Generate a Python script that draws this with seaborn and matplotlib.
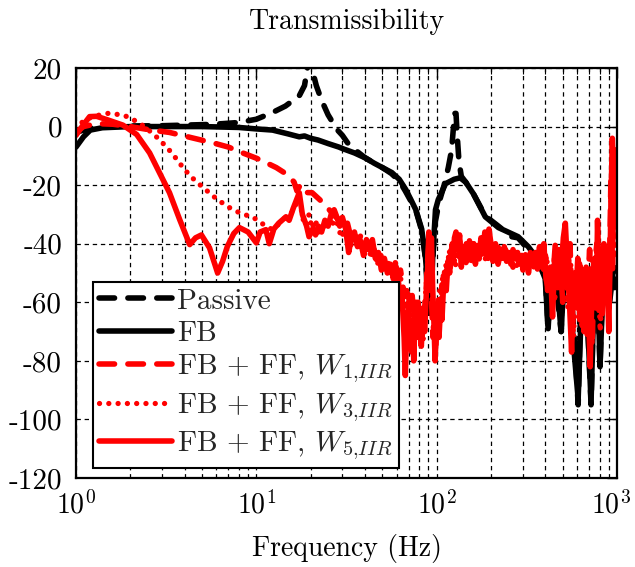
import matplotlib
matplotlib.use("Agg")
import numpy as np
import pandas as pd
import matplotlib.pyplot as plt
import matplotlib.transforms as mtransforms
import seaborn as sns
from matplotlib.ticker import LogLocator, NullFormatter

# ---------------- data (frequency in Hz, magnitude in dB) ----------------
PASSIVE = [(1, -2), (1.2, -0.5), (1.5, 0), (2, 0.2), (3, 0.3), (4, 0.5), (5.3, 0.7), (6.5, 1),
           (8, 1.4), (10, 2.5), (12.3, 4.8), (14.5, 7), (17.3, 10.5), (18.5, 14), (19.2, 20),
           (19.7, 28), (20.3, 20), (21.5, 14), (23, 9), (25, 4), (28, -1), (30, -3), (32, -5.5),
           (35, -7.8), (40, -10.6), (45, -12.5), (50, -14), (56, -16), (62, -18.5), (67, -22),
           (72, -25.5), (77, -29), (83, -36), (87, -46), (89, -58), (91, -66), (93, -60), (95, -46),
           (98, -33), (103, -26), (110, -20), (116, -14), (121, -8), (124, 0), (126, 4.5),
           (128, 4.5), (130, -3), (133, -12), (137, -17), (145, -19), (160, -23), (186, -30.5),
           (220, -34), (260, -37.6), (283, -38), (322, -42), (360, -45), (385, -48), (400, -50),
           (415, -69), (430, -50), (445, -47), (460, -54), (490, -70), (510, -48), (540, -50),
           (565, -62), (590, -80), (609, -95), (630, -60), (660, -50), (690, -70), (718, -95),
           (745, -55), (775, -48), (805, -82), (830, -55), (870, -50), (900, -62), (940, -48),
           (970, -55), (1000, -50)]

FB = [(1, -7), (1.1, -3.5), (1.2, -1.2), (1.4, -0.4), (2, 0), (3, 0), (5, 0), (8, -0.3),
      (10, -0.8), (12.3, -1.2), (15, -2.5), (17.3, -3.5), (18.5, -3.2), (20, -4), (22, -4.6),
      (25, -5.8), (28.7, -7), (30, -7.5), (35, -9), (40.5, -10.8), (45, -12.5), (50, -14),
      (56.4, -15.7), (62, -18), (67.4, -21.5), (72, -25), (76.6, -28.4), (82.6, -35),
      (86.8, -45), (89.5, -56), (91.5, -63), (93.5, -58), (95, -45), (98.5, -28.4), (102, -25),
      (112, -19.5), (125, -18), (135, -17.5), (145, -19), (160, -23), (186, -30.8), (220, -34.5),
      (283, -37.6), (322, -41), (360, -45), (400, -52), (415, -69), (430, -52), (460, -50),
      (490, -70), (510, -50), (540, -52), (575, -75), (609, -93), (640, -55), (680, -60),
      (718, -94), (745, -58), (780, -50), (805, -82), (830, -60), (870, -52), (910, -60),
      (950, -50), (1000, -48)]

W1 = [(1, -2), (1.1, 0), (1.3, 1), (1.6, 0.8), (2, 0), (2.5, -1), (3.3, -2), (4.5, -4),
      (5.7, -5.5), (7, -7), (8.4, -9), (10, -10.8), (11.3, -12.3), (12.9, -14), (14.5, -16),
      (15.5, -17.5), (16.2, -19), (16.8, -22), (17.5, -20), (18.5, -22.5), (20.4, -22.6),
      (22.5, -25), (24.5, -27.4), (27.5, -30.8), (29, -32), (30.5, -35), (32, -33), (33.5, -38),
      (35, -36), (36.5, -40), (38, -37), (39.5, -42), (41, -40), (43, -45), (45, -42), (47, -47),
      (49, -44), (51, -48), (53, -46), (55, -46.5), (57, -50), (59, -46.5), (61, -52), (63, -49),
      (65, -54.7), (67, -58), (69, -54.7), (71, -62), (73, -57), (75, -66), (77, -60), (79, -70),
      (81, -62), (83, -72), (85, -64), (87, -58), (89, -46), (91, -38), (92.5, -50), (94, -62),
      (95.5, -72), (97, -65), (99, -75), (101, -62), (103, -58), (105, -64), (107, -54),
      (109, -58), (111, -48), (113, -52), (116, -44), (119, -48), (122, -40), (125, -45),
      (128, -38), (131, -43), (134, -39), (137, -45), (141, -41), (145, -47), (149, -42),
      (153, -46), (157, -40), (161, -45), (166, -41), (171, -46), (176, -40), (181, -44),
      (187, -38), (193, -45), (199, -41), (205, -46), (212, -42), (219, -47), (226, -43),
      (233, -46), (241, -42), (249, -47), (257, -44), (265, -48), (274, -43), (283, -46),
      (292, -44), (301, -49), (311, -45), (321, -47), (331, -43), (342, -48), (353, -44),
      (365, -50), (377, -42), (389, -47), (401, -44), (414, -58), (427, -47), (441, -52),
      (455, -40), (470, -55), (485, -46), (500, -60), (516, -44), (532, -52), (549, -40),
      (566, -70), (584, -52), (603, -62), (622, -45), (642, -68), (662, -50), (683, -58),
      (705, -42), (727, -75), (750, -48), (773, -40), (797, -65), (822, -50), (848, -58),
      (874, -45), (901, -62), (925, -18), (945, -50), (962, -8), (980, -35), (1000, -25)]

W3 = [(1, -1), (1.1, 2), (1.25, 3.5), (1.5, 4.5), (1.8, 4), (2, 3), (2.4, 0), (2.9, -4.4),
      (3.4, -9), (4, -14.7), (4.5, -18), (5, -20.5), (6.1, -25), (7.4, -28.4), (8.5, -30),
      (9.5, -30.8), (11.3, -34), (12.3, -35.2), (13.5, -33), (14.5, -31), (15.5, -30),
      (16.5, -27), (17.3, -23), (18, -31), (18.8, -34), (19.6, -30), (20.4, -35), (21.3, -32),
      (22.2, -37), (23.2, -33), (24.2, -35), (25.2, -31), (26.3, -34), (27.4, -30), (28.6, -35),
      (29.8, -38), (31, -34), (32.4, -37), (33.8, -41), (35.2, -38), (36.7, -42), (38.3, -39),
      (40, -44), (41.7, -41), (43.5, -45), (45.4, -42), (47.3, -47), (49.3, -45), (51.4, -50),
      (53.6, -46), (55.9, -51), (58.3, -48), (60.8, -54), (63.4, -52), (66, -58), (68, -64),
      (70, -56), (72, -66), (74, -72), (76, -62), (78, -70), (80, -62), (82, -68), (84, -74),
      (86, -60), (88, -52), (90, -42), (91.5, -56), (93, -48), (94.5, -62), (96, -70),
      (98, -64), (100, -72), (102, -62), (104, -56), (106, -62), (108, -50), (110.5, -54),
      (113, -46), (115.5, -50), (118, -42), (121, -47), (124, -43), (127, -48), (130, -40),
      (133, -45), (136, -41), (140, -46), (144, -42), (148, -47), (152, -41), (156, -46),
      (161, -40), (166, -45), (171, -39), (176, -44), (181, -40), (187, -46), (193, -41),
      (199, -45), (206, -42), (213, -46), (220, -41), (228, -45), (236, -42), (244, -46),
      (252, -43), (261, -47), (270, -44), (279, -48), (289, -44), (299, -47), (309, -43),
      (320, -48), (331, -45), (343, -49), (355, -44), (367, -47), (380, -42), (393, -50),
      (407, -44), (421, -56), (436, -48), (451, -60), (467, -46), (483, -53), (500, -40),
      (517, -48), (535, -62), (554, -47), (573, -72), (593, -56), (614, -45), (635, -64),
      (657, -50), (680, -72), (704, -54), (728, -44), (753, -60), (779, -38), (806, -70),
      (834, -52), (863, -48), (893, -58), (920, -35), (940, -12), (958, -45), (975, -20),
      (1000, -35)]

W5 = [(1, -3), (1.08, 0), (1.19, 3.4), (1.3, 3.5), (1.48, 2.4), (1.82, 0.5), (2.17, -2.7),
      (2.56, -9), (2.9, -15.7), (3.3, -22.6), (3.76, -31.8), (4.27, -40.3), (4.6, -38),
      (4.96, -37), (5.5, -41.4), (6.1, -50), (6.5, -46), (6.9, -41), (7.5, -36.5), (8.06, -34.5),
      (9, -36), (10, -39.7), (10.5, -36), (11.3, -35.2), (11.8, -40), (12.5, -35), (13.3, -33),
      (14.6, -30.8), (15.2, -32), (16, -28), (17.3, -22.6), (18, -30), (19, -34), (19.6, -37.6),
      (20.5, -35), (21.3, -37), (22.1, -34), (23, -36), (24, -32), (25, -34), (26, -30),
      (27, -28.4), (28, -31), (29, -34), (30, -31), (31.3, -35), (32.5, -43), (33.7, -38),
      (35, -36), (36.4, -41), (37.8, -39), (39.3, -44), (40.8, -38.6), (42.4, -42), (44, -38.6),
      (45.7, -45), (47.5, -43), (49.4, -49), (51.3, -45), (53.3, -50), (55.4, -47), (57.5, -52),
      (59.7, -48), (62, -55), (64.3, -58), (66, -72), (67, -85), (68.5, -66), (70, -62),
      (71.5, -74), (72.8, -77), (74, -70), (74.6, -80), (76, -64), (77.5, -72), (79, -60),
      (80.6, -68), (82.2, -75), (84, -64), (85.8, -70), (87.5, -58), (89, -50), (90.5, -36),
      (92, -48), (93.5, -38), (95, -55), (96.5, -66), (98, -80), (99.5, -70), (101, -66),
      (103, -72), (105, -62), (107, -66), (109, -55), (111, -50), (113, -56), (115.5, -46),
      (118, -50), (120.5, -42), (123, -46), (125.5, -38), (128, -36), (131, -42), (134, -37),
      (137, -48), (140, -41), (143, -46), (146, -40), (149, -45), (152, -39), (156, -44),
      (160, -40), (164, -47), (168, -41), (172, -45), (176, -38), (180, -43), (185, -36),
      (190, -42), (195, -35), (200, -40), (206, -44), (212, -40), (218, -46), (224, -42),
      (230, -45), (237, -41), (244, -46), (251, -43), (258, -47), (265, -42), (273, -45),
      (281, -43), (289, -47), (297, -44), (305, -48), (314, -45), (323, -50), (332, -44),
      (342, -47), (352, -43), (362, -46), (372, -41), (382, -48), (393, -40), (404, -52),
      (415, -55), (427, -48), (439, -65), (451, -45), (464, -54), (477, -42), (490, -50),
      (504, -38), (517, -33), (531, -48), (545, -60), (560, -77), (575, -50), (590, -60),
      (606, -45), (622, -66), (639, -55), (656, -70), (674, -48), (692, -60), (710, -82),
      (729, -52), (748, -45), (768, -62), (780, -32), (793, -50), (810, -58), (828, -64),
      (846, -40), (864, -60), (882, -50), (900, -70), (915, -45), (930, -20), (942, -4),
      (955, -15), (968, -8), (982, -30), (1000, -12)]

LABELS = ["Passive", "FB", r"FB + FF, $W_{1{,}IIR}$", r"FB + FF, $W_{3{,}IIR}$",
          r"FB + FF, $W_{5{,}IIR}$"]
YTICKS = [-120, -100, -80, -60, -40, -20, 0, 20]
YTICKLABELS = ["-120", "-100", "-80", "-60", "-40", "-20", "0", "20"]
XTICKS = [1, 10, 100, 1000]
XTICKLABELS = [r"$10^{0}$", r"$10^{1}$", r"$10^{2}$", r"$10^{3}$"]

# ---------------- style ----------------
sns.set_theme(style="white")
plt.rcParams.update({
    "font.family": "serif",
    "font.serif": ["cmr10", "DejaVu Serif"],
    "mathtext.fontset": "cm",
    "axes.formatter.use_mathtext": True,
    "axes.unicode_minus": False,
})

fig = plt.figure(figsize=(6.35, 5.67), dpi=100)
ax = fig.add_axes([76 / 635, 1 - 478 / 567, 541 / 635, 410 / 567])

series = [
    (PASSIVE, "black", "dash"),
    (FB, "black", "solid"),
    (W1, "red", "dash"),
    (W3, "red", "dot"),
    (W5, "red", "solid"),
]

LW = 4.0
for (pts, color, style), label in zip(series, LABELS):
    df = pd.DataFrame(pts, columns=["f", "db"])
    sns.lineplot(data=df, x="f", y="db", ax=ax, color=color, linewidth=LW,
                 estimator=None, sort=False, label=label)
    line = ax.lines[-1]
    line.set_solid_joinstyle("round")
    line.set_solid_capstyle("round")
    if style == "dash":
        line.set_linestyle((0, (2.8, 2.4)))
        line.set_dash_capstyle("round")
    elif style == "dot":
        line.set_linewidth(3.8)
        line.set_linestyle((0, (0.01, 1.75)))
        line.set_dash_capstyle("round")

ax.set_xscale("log")
ax.set_xlim(1, 1000)
ax.set_ylim(-120, 20)
ax.set_xticks(XTICKS)
ax.set_xticklabels(XTICKLABELS)
ax.xaxis.set_minor_locator(LogLocator(base=10, subs=np.arange(2, 10), numticks=20))
ax.xaxis.set_minor_formatter(NullFormatter())
ax.set_yticks(YTICKS)
ax.set_yticklabels(YTICKLABELS)

grid_kw = dict(color="black", linestyle=(0, (3.5, 3)), linewidth=0.9)
ax.grid(True, which="major", axis="both", **grid_kw)
ax.grid(True, which="minor", axis="x", **grid_kw)
ax.set_axisbelow(True)

ax.tick_params(which="both", direction="in", top=True, right=True, colors="black")
ax.tick_params(axis="y", labelsize=21, pad=10)
ax.tick_params(axis="x", labelsize=20, pad=9)
ax.tick_params(which="major", length=7, width=1.0)
ax.tick_params(which="minor", length=4, width=0.8)

# keep the last x tick label fully inside the figure
last = ax.get_xticklabels()[-1]
last.set_transform(last.get_transform() +
                   mtransforms.ScaledTranslation(-4 / 72, 0, fig.dpi_scale_trans))

for s in ax.spines.values():
    s.set_color("black")
    s.set_linewidth(1.6)

ax.set_title("Transmissibility", fontsize=20, pad=28, color="black")
ax.set_xlabel("Frequency (Hz)", fontsize=20, labelpad=11, color="black")
ax.set_ylabel("")

leg = ax.legend(loc="lower left", bbox_to_anchor=(0.031, 0.024), fontsize=21,
                frameon=True, fancybox=False, framealpha=1, edgecolor="black",
                handlelength=2.5, handletextpad=0.2, labelspacing=0.2,
                borderpad=0.2, borderaxespad=0)
leg.get_frame().set_linewidth(1.5)

fig.savefig("out.png", dpi=100)
